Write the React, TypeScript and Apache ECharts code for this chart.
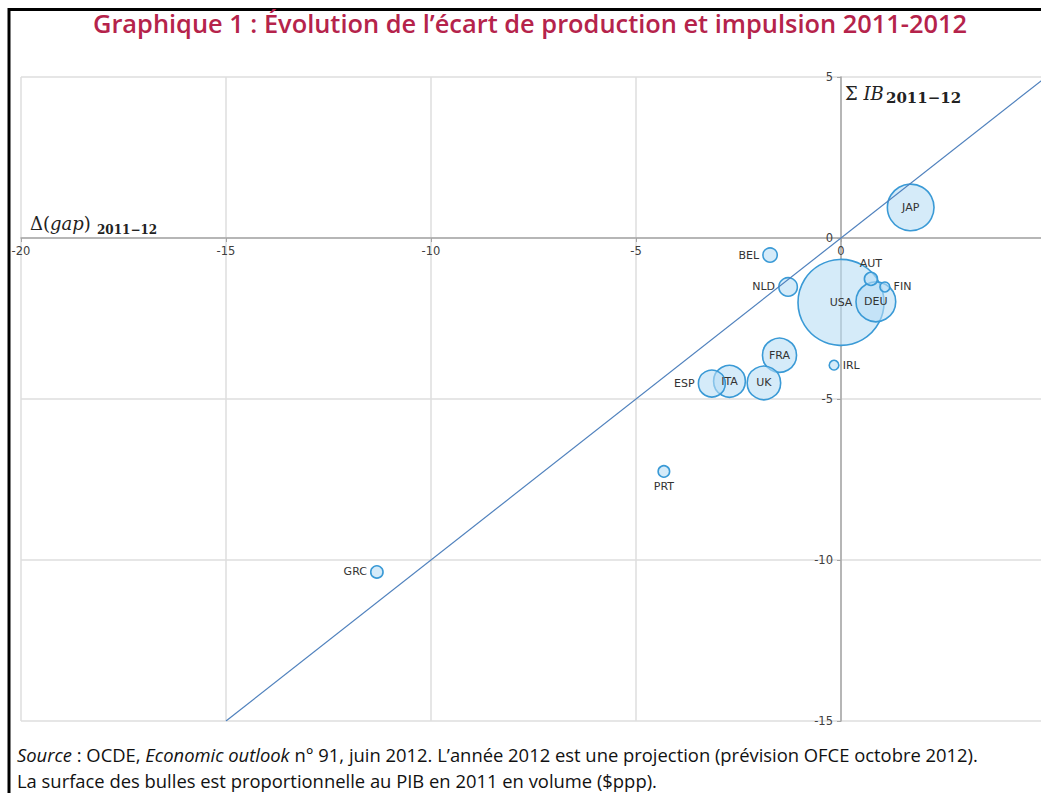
import React, { useEffect, useRef } from 'react';
import * as echarts from 'echarts';

const countries = ['USA', 'JAP', 'DEU', 'FRA', 'UK', 'ITA', 'ESP', 'NLD', 'BEL', 'AUT', 'GRC', 'PRT', 'FIN', 'IRL'];
// Δ(gap) 2011-12 (x axis)
const gapChange = [0.0, 1.7, 0.85, -1.5, -1.88, -2.72, -3.15, -1.29, -1.73, 0.73, -11.32, -4.32, 1.07, -0.17];
// Σ IB 2011-12 (y axis)
const impulse = [-2.0, 0.95, -1.98, -3.64, -4.5, -4.45, -4.52, -1.52, -0.53, -1.27, -10.37, -7.25, -1.52, -3.95];
// PIB 2011 en volume ($ppp, Md)
const gdp = [15094, 4440, 3221, 2370, 2290, 2060, 1480, 700, 420, 350, 310, 270, 200, 190];
const labelPlacement: Record<string, string> = {
  USA: 'inside', JAP: 'inside', DEU: 'inside', FRA: 'inside', UK: 'inside', ITA: 'inside',
  ESP: 'left', NLD: 'left', BEL: 'left', AUT: 'top', GRC: 'left', PRT: 'bottom', FIN: 'right', IRL: 'right',
};
const xTicks = { min: -20, max: 5, interval: 5 };
const yTicks = { min: -15, max: 5, interval: 5 };
const diagonal = [[-15, -15], [5, 5]];

const maxGdp = Math.max(...gdp);
const maxDiameter = 86;

// canvas is a bit wider than the window: the plot area runs past the right edge, as in the original crop
const W = 1046, H = 793;
const GRID = { left: 21, right: 0, top: 77, bottom: 72 };

export default function App() {
  const ref = useRef<HTMLDivElement>(null);
  useEffect(() => {
    document.body.style.margin = '0';
    document.body.style.overflow = 'hidden';
    const chart = echarts.init(ref.current!, null, { renderer: 'svg' });
    const gw = W - GRID.left - GRID.right;
    const gh = H - GRID.top - GRID.bottom;
    const zeroX = GRID.left + gw * (0 - xTicks.min) / (xTicks.max - xTicks.min);
    const zeroY = GRID.top + gh * (yTicks.max - 0) / (yTicks.max - yTicks.min);
    const labelFont = { fontFamily: 'DejaVu Sans', fontSize: 11.5, color: '#404040' };
    const option: any = {
      animation: false,
      grid: GRID,
      xAxis: {
        type: 'value', ...xTicks,
        position: 'bottom',
        offset: -(H - GRID.bottom - zeroY),
        axisLine: { onZero: false, lineStyle: { color: '#a6a6a6', width: 1.5 } },
        axisTick: { show: true, length: 4, lineStyle: { color: '#a6a6a6' } },
        axisLabel: { ...labelFont, margin: 7, showMaxLabel: false },
        splitLine: { show: true, lineStyle: { color: '#dedede', width: 1.5 } },
      },
      yAxis: {
        type: 'value', ...yTicks,
        position: 'left',
        offset: -(zeroX - GRID.left),
        axisLine: { onZero: false, lineStyle: { color: '#a6a6a6', width: 1.5 } },
        axisTick: { show: true, length: 4, lineStyle: { color: '#a6a6a6' } },
        axisLabel: { ...labelFont, margin: 8 },
        splitLine: { show: true, lineStyle: { color: '#dedede', width: 1.5 } },
      },
      series: [
        {
          type: 'scatter',
          data: countries.map((c, i) => ({
            name: c,
            value: [gapChange[i], impulse[i], gdp[i]],
            label: { position: labelPlacement[c] },
          })),
          symbolSize: (v: number[]) => maxDiameter * Math.sqrt(v[2] / maxGdp),
          itemStyle: { color: 'rgba(185,222,245,0.6)', borderColor: '#3a9ad6', borderWidth: 1.6, opacity: 1 },
          label: {
            show: true, formatter: '{b}', distance: 3,
            fontFamily: 'DejaVu Sans', fontSize: 11, color: '#333',
          },
          z: 2,
        },
        {
          type: 'line',
          data: diagonal,
          symbol: 'none',
          lineStyle: { color: '#4f81bd', width: 1.2 },
          z: 3,
          silent: true,
        },
      ],
      graphic: [
        {
          type: 'rect', shape: { x: 9, y: 9.5, width: 1100, height: 900 },
          style: { fill: 'none', stroke: '#000', lineWidth: 3 }, silent: true,
        },
        {
          type: 'text', x: 530, y: 23,
          style: {
            text: 'Graphique 1 : Évolution de l\u2019écart de production et impulsion 2011-2012',
            fill: '#b5234b', font: '600 25.4px "Open Sans"', textAlign: 'center', textVerticalAlign: 'middle',
          },
        },
        {
          type: 'text', x: 30, y: 223,
          style: {
            text: '{a|Δ(}{b|gap}{a|)}',
            rich: {
              a: { fontFamily: 'DejaVu Serif', fontSize: 18, fill: '#222' },
              b: { fontFamily: 'DejaVu Serif', fontStyle: 'italic', fontSize: 18, fill: '#222' },
            },
            textVerticalAlign: 'middle',
          },
        },
        {
          type: 'text', x: 97, y: 230,
          style: { text: '2011\u221212', font: 'bold 12px DejaVu Serif', fill: '#222', textVerticalAlign: 'middle' },
        },
        {
          type: 'text', x: 845, y: 93,
          style: {
            text: '{a|Σ }{b|IB}',
            rich: {
              a: { fontFamily: 'DejaVu Serif', fontSize: 18, fill: '#222' },
              b: { fontFamily: 'DejaVu Serif', fontStyle: 'italic', fontSize: 18, fill: '#222' },
            },
            textVerticalAlign: 'middle',
          },
        },
        {
          type: 'text', x: 886, y: 98,
          style: { text: '2011\u221212', font: 'bold 15px DejaVu Serif', fill: '#222', textVerticalAlign: 'middle' },
        },
        {
          type: 'text', x: 17, y: 754.5,
          style: {
            text: '{i|Source} : OCDE, {i|Economic outlook} n° 91, juin 2012. L\u2019année 2012 est une projection (prévision OFCE octobre 2012).',
            font: '18.4px "Open Sans"', fill: '#111', textVerticalAlign: 'middle',
            rich: { i: { fontFamily: 'Open Sans', fontStyle: 'italic', fontSize: 18.4, fill: '#111' } },
          },
        },
        {
          type: 'text', x: 17, y: 780,
          style: {
            text: 'La surface des bulles est proportionnelle au PIB en 2011 en volume ($ppp).',
            font: '18.4px "Open Sans"', fill: '#111', textVerticalAlign: 'middle',
          },
        },
      ],
    };
    chart.setOption(option);
    return () => chart.dispose();
  }, []);
  return <div ref={ref} style={{ width: W, height: H }} />;
}
